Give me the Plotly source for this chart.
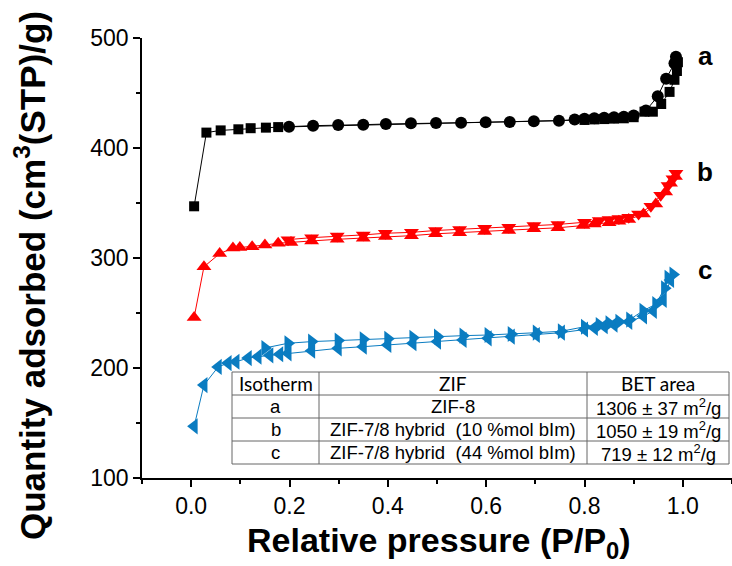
import plotly.graph_objects as go

# ---------------- data ----------------
# Isotherm a (ZIF-8)
a_ads_x = [0.006, 0.031, 0.060, 0.096, 0.121, 0.152, 0.177, 0.80, 0.82, 0.84, 0.86, 0.88, 0.90,
           0.922, 0.939, 0.956, 0.973, 0.983, 0.988, 0.990]
a_ads_y = [347, 414, 416, 417, 418, 418.5, 419, 425.5, 426, 426.3, 426.7, 427, 428,
           433, 433, 440, 451, 462, 470, 478]
a_des_x = [0.986, 0.983, 0.966, 0.949, 0.925, 0.90, 0.88, 0.86, 0.84, 0.82, 0.80, 0.78, 0.748,
           0.697, 0.648, 0.599, 0.549, 0.498, 0.447, 0.396, 0.350, 0.299, 0.248, 0.199]
a_des_y = [483, 477, 463, 447, 434, 429.5, 428.5, 428, 427.5, 427, 426.5, 426, 424.8,
           424.3, 423.6, 423.4, 423.0, 422.7, 422.5, 421.8, 421.2, 420.9, 420.3, 419.4]

# Isotherm b (ZIF-7/8 hybrid, 10 %mol bIm)
b_ads_x = [0.006, 0.026, 0.058, 0.085, 0.099, 0.124, 0.150, 0.177, 0.203, 0.245, 0.297, 0.350,
           0.395, 0.448, 0.497, 0.546, 0.597, 0.646, 0.697, 0.746, 0.797, 0.82, 0.85, 0.87,
           0.89, 0.92, 0.945, 0.965, 0.975, 0.985]
b_ads_y = [246, 292, 304, 309, 309.5, 310.3, 311.8, 313.4, 314, 315.5, 317, 318,
           319.5, 320.3, 322, 323, 324, 325, 326.5, 327.5, 329.5, 331, 332, 333.5,
           335, 340, 349, 360, 368, 374]
b_des_x = [0.986, 0.98, 0.97, 0.955, 0.935, 0.91, 0.89, 0.87, 0.85, 0.83, 0.80, 0.746, 0.697,
           0.646, 0.597, 0.546, 0.497, 0.448, 0.395, 0.350, 0.297, 0.245, 0.197]
b_des_y = [377, 372, 366, 357, 347, 340, 337, 336, 335, 334, 332.5, 330.5, 329.5,
           328, 327, 325.8, 325, 323.3, 322.5, 321, 320, 318.5, 316.7]

# Isotherm c (ZIF-7/8 hybrid, 44 %mol bIm)
c_ads_x = [0.006, 0.026, 0.055, 0.075, 0.091, 0.116, 0.136, 0.16, 0.18, 0.197, 0.245, 0.299,
           0.350, 0.400, 0.451, 0.501, 0.553, 0.604, 0.651, 0.702, 0.753, 0.80, 0.82, 0.84,
           0.86, 0.89, 0.92, 0.94, 0.96, 0.975]
c_ads_y = [147, 184.5, 201, 204.5, 205.7, 209, 210.3, 211.5, 212.5, 213.3, 215.7, 217.9,
           219.4, 220.9, 222.5, 224, 225.5, 227, 228.5, 230, 232.1, 235, 236.5, 238,
           239.5, 242, 247, 252, 262, 280]
c_des_x = [0.98, 0.97, 0.963, 0.945, 0.919, 0.892, 0.87, 0.85, 0.83, 0.80, 0.753, 0.702,
           0.651, 0.604, 0.553, 0.501, 0.451, 0.400, 0.350, 0.299, 0.245, 0.197, 0.15]
c_des_y = [285, 282, 272.5, 258, 252, 244, 242, 240.5, 239, 237.5, 233.4, 232.1,
           230.9, 230, 229.4, 228.5, 227.5, 226.6, 226.1, 225, 224, 222.5, 218.2]

curve_labels = ["a", "b", "c"]
label_y = [484, 378, 289]

table_header = ["Isotherm", "ZIF", "BET area"]
table_rows = [
    ["a", "ZIF-8", "1306 ± 37 m<sup>2</sup>/g"],
    ["b", "ZIF-7/8 hybrid  (10 %mol bIm)", "1050 ± 19 m<sup>2</sup>/g"],
    ["c", "ZIF-7/8 hybrid  (44 %mol bIm)", "719 ± 12 m<sup>2</sup>/g"],
]

# ---------------- figure ----------------
BLACK = "#000000"
RED = "#ff0000"
BLUE = "#0a7cc1"

fig = go.Figure()

def add(x, y, color, symbol, size):
    fig.add_trace(go.Scatter(
        x=x, y=y, mode="lines+markers",
        line=dict(color=color, width=1),
        marker=dict(symbol=symbol, size=size, color=color, line=dict(width=0)),
        hoverinfo="skip", showlegend=False))

add(a_ads_x, a_ads_y, BLACK, "square", 10)
add(a_des_x, a_des_y, BLACK, "circle", 12)
add(b_ads_x, b_ads_y, RED, "triangle-up", 13)
add(b_des_x, b_des_y, RED, "triangle-down", 13)
add(c_ads_x, c_ads_y, BLUE, "triangle-left", 14)
add(c_des_x, c_des_y, BLUE, "triangle-right", 14)

W, H = 732, 566
L, R, T, B = 142, 0, 38, 88
pw, ph = W - L - R, H - T - B

def px(xp):
    return (xp - L) / pw

def py(yp):
    return (H - B - yp) / ph

annotations = []
shapes = []

# curve labels
for lab, yv in zip(curve_labels, label_y):
    annotations.append(dict(x=1.046, y=yv, xref="x", yref="y", text=lab, showarrow=False,
                            xanchor="center", yanchor="middle",
                            font=dict(family="Liberation Sans", size=26, color="black", weight="bold")))

# axis titles
annotations.append(dict(x=px(439), y=py(542), xref="paper", yref="paper",
                        text="<b>Relative pressure (P/P<sub>0</sub>)</b>", showarrow=False,
                        xanchor="center", yanchor="middle",
                        font=dict(family="Liberation Sans", size=34, color="black")))
annotations.append(dict(x=px(30), y=py(276), xref="paper", yref="paper", textangle=-90,
                        text="<b>Quantity adsorbed (cm<sup>3</sup>(STP)/g)</b>", showarrow=False,
                        xanchor="center", yanchor="middle",
                        font=dict(family="Liberation Sans", size=35, color="black")))

# table
col_edges = [232, 319, 587, 729]
row_edges = [372, 395, 418, 441, 464]
BORDER = "#666666"
shapes.append(dict(type="rect", xref="paper", yref="paper",
                   x0=px(col_edges[0]), x1=px(col_edges[-1]),
                   y0=py(row_edges[-1]), y1=py(row_edges[0]),
                   fillcolor="white", line=dict(color=BORDER, width=1), layer="above"))
for ce in col_edges[1:-1]:
    shapes.append(dict(type="line", xref="paper", yref="paper", x0=px(ce), x1=px(ce),
                       y0=py(row_edges[-1]), y1=py(row_edges[0]),
                       line=dict(color=BORDER, width=1), layer="above"))
for re_ in row_edges[1:-1]:
    shapes.append(dict(type="line", xref="paper", yref="paper", x0=px(col_edges[0]), x1=px(col_edges[-1]),
                       y0=py(re_), y1=py(re_), line=dict(color=BORDER, width=1), layer="above"))

for r, row in enumerate([table_header] + table_rows):
    yc = (row_edges[r] + row_edges[r + 1]) / 2
    for c, txt in enumerate(row):
        xc = (col_edges[c] + col_edges[c + 1]) / 2
        fam = "Lato" if r == 0 else "Liberation Sans"
        sz = 19 if r == 0 else 18.5
        annotations.append(dict(x=px(xc), y=py(yc), xref="paper", yref="paper", text=txt,
                                showarrow=False, xanchor="center", yanchor="middle",
                                font=dict(family=fam, size=sz, color="black")))

tickfont = dict(family="Liberation Sans Narrow, Liberation Sans", size=23, color="black")

fig.update_layout(
    width=W, height=H,
    margin=dict(l=L, r=R, t=T, b=B, pad=0),
    paper_bgcolor="white", plot_bgcolor="white",
    showlegend=False,
    xaxis=dict(range=[-0.1, 1.1], tick0=0, dtick=0.2, tickformat=".1f",
               showgrid=False, zeroline=False, showline=True, linecolor="black", linewidth=1.5,
               ticks="outside", ticklen=7, tickwidth=1.5, tickcolor="black",
               minor=dict(dtick=0.1, ticks="outside", ticklen=4, tickwidth=1.5, tickcolor="black"),
               tickfont=tickfont),
    yaxis=dict(range=[100, 500], tick0=100, dtick=100,
               showgrid=False, zeroline=False, showline=True, linecolor="black", linewidth=1.5,
               ticks="outside", ticklen=7, tickwidth=1.5, tickcolor="black",
               minor=dict(dtick=50, ticks="outside", ticklen=4, tickwidth=1.5, tickcolor="black"),
               tickfont=tickfont),
    annotations=annotations,
    shapes=shapes,
)

fig.write_html("out.html")
